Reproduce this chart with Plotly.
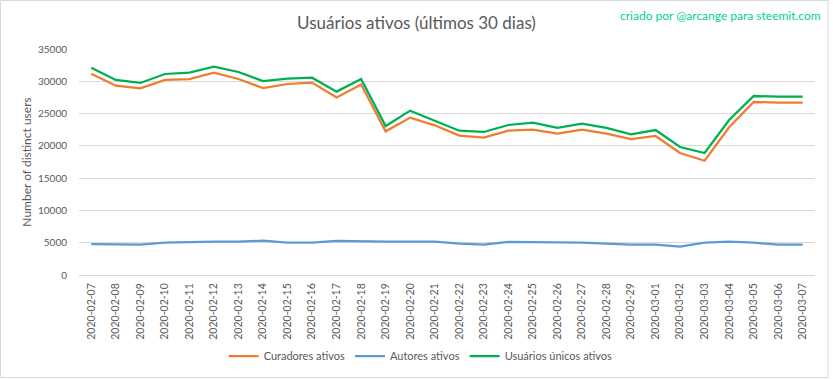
import plotly.graph_objects as go

dates = ["2020-02-07", "2020-02-08", "2020-02-09", "2020-02-10", "2020-02-11", "2020-02-12",
         "2020-02-13", "2020-02-14", "2020-02-15", "2020-02-16", "2020-02-17", "2020-02-18",
         "2020-02-19", "2020-02-20", "2020-02-21", "2020-02-22", "2020-02-23", "2020-02-24",
         "2020-02-25", "2020-02-26", "2020-02-27", "2020-02-28", "2020-02-29", "2020-03-01",
         "2020-03-02", "2020-03-03", "2020-03-04", "2020-03-05", "2020-03-06", "2020-03-07"]

curadores = [31180, 29320, 28910, 30200, 30350, 31330, 30350, 28960, 29580, 29800,
             27500, 29500, 22250, 24370, 23180, 21580, 21270, 22350, 22500, 21890,
             22500, 21890, 21060, 21530, 18890, 17700, 22870, 26790, 26690, 26690]

autores = [4800, 4700, 4700, 5000, 5110, 5160, 5160, 5310, 5000, 5000,
           5270, 5160, 5160, 5160, 5160, 4850, 4700, 5110, 5110, 5000,
           5000, 4850, 4700, 4700, 4390, 5000, 5160, 5000, 4700, 4700]

unicos = [32110, 30200, 29740, 31130, 31330, 32260, 31440, 30040, 30400, 30550,
          28400, 30350, 23070, 25450, 23900, 22350, 22150, 23230, 23600, 22770,
          23430, 22770, 21790, 22450, 19820, 18890, 24000, 27720, 27620, 27620]

series = [("Curadores ativos", curadores, "#ED7D31"),
          ("Autores ativos", autores, "#5B9BD5"),
          ("Usuários únicos ativos", unicos, "#00B050")]

yticks = [0, 5000, 10000, 15000, 20000, 25000, 30000, 35000]

FONT = "Lato, Calibri, sans-serif"
GRAY = "#595959"

fig = go.Figure()
for name, vals, color in series:
    fig.add_trace(go.Scatter(x=dates, y=vals, name=name, mode="lines",
                             line=dict(color=color, width=2.25)))

fig.update_layout(
    width=833, height=379,
    margin=dict(l=79, r=18, t=49, b=104, autoexpand=False),
    paper_bgcolor="white", plot_bgcolor="white",
    font=dict(family=FONT, color=GRAY, size=10.5),
    title=dict(text="Usuários ativos (últimos 30 dias)", x=0.5, xref="container",
               xanchor="center", y=1 - 23 / 379, yanchor="middle", automargin=False,
               font=dict(family=FONT, size=17, color=GRAY)),
    showlegend=True,
    legend=dict(orientation="h", x=0.505, xref="container", xanchor="center",
                y=1 - 356 / 379, yref="container", yanchor="middle",
                font=dict(family=FONT, size=11, color=GRAY),
                itemwidth=30, tracegroupgap=0),
    xaxis=dict(type="category", categoryorder="array", categoryarray=dates,
               range=[-0.5, len(dates) - 0.5], tickangle=-90, showgrid=False,
               showline=True, linecolor="#D9D9D9", linewidth=1,
               ticks="outside", ticklen=3, tickcolor="rgba(0,0,0,0)",
               automargin=False,
               tickfont=dict(family=FONT, size=10.5, color=GRAY)),
    yaxis=dict(range=[0, 35000], tickvals=yticks, ticktext=[str(v) for v in yticks],
               showgrid=True, gridcolor="#D9D9D9", gridwidth=1, zeroline=False,
               showline=False, ticks="outside", ticklen=9, tickcolor="rgba(0,0,0,0)",
               automargin=False,
               title=dict(text="Number of distinct users", standoff=3,
                          font=dict(family=FONT, size=12, color=GRAY)),
               tickfont=dict(family=FONT, size=10, color=GRAY)),
    annotations=[dict(text="criado por @arcange para steemit.com", xref="paper", yref="paper",
                      x=(823 - 79) / 736, y=(275 - 15) / 226, xanchor="right", yanchor="middle",
                      showarrow=False, font=dict(family=FONT, size=12, color="#00D09A"))],
    shapes=[dict(type="rect", xref="paper", yref="paper",
                 x0=(0.5 - 79) / 736, x1=(828 - 79) / 736,
                 y0=(275 - 377.5) / 226, y1=(275 - 0.5) / 226,
                 line=dict(color="#D9D9D9", width=1), fillcolor="rgba(0,0,0,0)",
                 layer="below")],
)

fig.write_html("out.html", config={"displayModeBar": False},
               post_script="document.body.style.margin='0';document.body.style.overflow='hidden';")
